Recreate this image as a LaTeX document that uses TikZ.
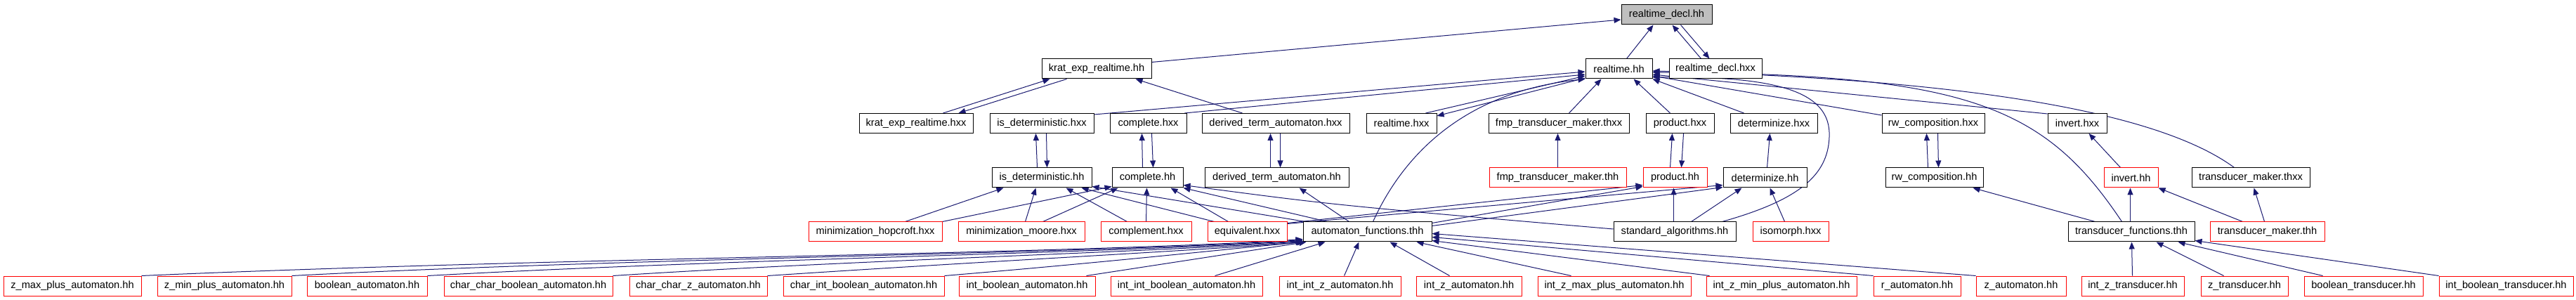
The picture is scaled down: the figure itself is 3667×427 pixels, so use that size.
\documentclass[tikz,border=0pt]{standalone}
\usepackage{fontspec}
\setmainfont{Liberation Sans}
\usetikzlibrary{arrows.meta}
\pgfdeclarelayer{bg}
\pgfsetlayers{bg,main}
\definecolor{edgeblue}{HTML}{191970}
\definecolor{declgray}{HTML}{BFBFBF}
\definecolor{boxred}{HTML}{FF0000}
\newcommand{\nodefont}{\fontsize{14.6pt}{17pt}\selectfont}
\begin{document}
\begin{tikzpicture}[x=1pt,y=-1pt,
  box/.style={draw=black, fill=white, line width=1pt, minimum height=28pt, inner sep=0pt, font=\nodefont},
  redbox/.style={box, draw=boxred},
  edge/.style={draw=edgeblue, line width=1pt, -{Triangle[length=10pt,width=8pt]}}]
\begin{pgfonlayer}{bg}
\fill[white] (0,0) rectangle (3667,427);
\end{pgfonlayer}
\useasboundingbox (0,0) rectangle (3667,427);
% row 0
\node[box, fill=declgray, minimum width=129pt] (rdh) at (2372.5,21) {realtime\_decl.hh};
% row 1
\node[box, minimum width=156pt] (keh) at (1561,98) {krat\_exp\_realtime.hh};
\node[box, minimum width=95pt] (rth) at (2304.5,98) {realtime.hh};
\node[box, minimum width=132pt] (rdx) at (2442,98) {realtime\_decl.hxx};
% row 2
\node[box, minimum width=162pt] (kex) at (1304,175.5) {krat\_exp\_realtime.hxx};
\node[box, minimum width=148pt] (idx) at (1483,175.5) {is\_deterministic.hxx};
\node[box, minimum width=109pt] (cpx) at (1634.5,175.5) {complete.hxx};
\node[box, minimum width=210pt] (dtx) at (1816,175.5) {derived\_term\_automaton.hxx};
\node[box, minimum width=100pt] (rtx) at (1995,175.5) {realtime.hxx};
\node[box, minimum width=200pt] (fmx) at (2219,175.5) {fmp\_transducer\_maker.thxx};
\node[box, minimum width=97pt] (prx) at (2391.5,175.5) {product.hxx};
\node[box, minimum width=124pt] (dex) at (2525,175.5) {determinize.hxx};
\node[box, minimum width=146pt] (rwx) at (2752,175.5) {rw\_composition.hxx};
\node[box, minimum width=84pt] (inx) at (2957,175.5) {invert.hxx};
% row 3
\node[box, minimum width=142pt] (idh) at (1483,253) {is\_deterministic.hh};
\node[box, minimum width=101pt] (cph) at (1633.5,253) {complete.hh};
\node[box, minimum width=205pt] (dth) at (1817.5,253) {derived\_term\_automaton.hh};
\node[redbox, minimum width=195pt] (fmh) at (2217.5,253) {fmp\_transducer\_maker.thh};
\node[redbox, minimum width=91pt] (prh) at (2384.5,253) {product.hh};
\node[box, minimum width=119pt] (deh) at (2512.5,253) {determinize.hh};
\node[box, minimum width=139pt] (rwh) at (2753.5,253) {rw\_composition.hh};
\node[redbox, minimum width=77pt] (inh) at (3033.5,253) {invert.hh};
\node[box, minimum width=168pt] (tmx) at (3204,253) {transducer\_maker.thxx};
% row 4
\node[redbox, minimum width=190pt] (mhx) at (1246,330) {minimization\_hopcroft.hxx};
\node[redbox, minimum width=180pt] (mmx) at (1454,330) {minimization\_moore.hxx};
\node[redbox, minimum width=129pt] (cmx) at (1631.5,330) {complement.hxx};
\node[redbox, minimum width=113pt] (eqx) at (1775.5,330) {equivalent.hxx};
\node[box, minimum width=183pt] (aft) at (1946.5,330) {automaton\_functions.thh};
\node[box, minimum width=174pt] (sah) at (2384,330) {standard\_algorithms.hh};
\node[redbox, minimum width=108pt] (isx) at (2549,330) {isomorph.hxx};
\node[box, minimum width=180pt] (tft) at (3034,330) {transducer\_functions.thh};
\node[redbox, minimum width=163pt] (tmh) at (3227.5,330) {transducer\_maker.thh};
% row 5
\node[redbox, minimum width=196pt] (b1) at (103,407) {z\_max\_plus\_automaton.hh};
\node[redbox, minimum width=191pt] (b2) at (319.5,407) {z\_min\_plus\_automaton.hh};
\node[redbox, minimum width=171pt] (b3) at (522.5,407) {boolean\_automaton.hh};
\node[redbox, minimum width=240pt] (b4) at (752,407) {char\_char\_boolean\_automaton.hh};
\node[redbox, minimum width=196pt] (b5) at (994,407) {char\_char\_z\_automaton.hh};
\node[redbox, minimum width=229pt] (b6) at (1229.5,407) {char\_int\_boolean\_automaton.hh};
\node[redbox, minimum width=194pt] (b7) at (1462,407) {int\_boolean\_automaton.hh};
\node[redbox, minimum width=216pt] (b8) at (1689,407) {int\_int\_boolean\_automaton.hh};
\node[redbox, minimum width=173pt] (b9) at (1907.5,407) {int\_int\_z\_automaton.hh};
\node[redbox, minimum width=150pt] (b10) at (2091,407) {int\_z\_automaton.hh};
\node[redbox, minimum width=218pt] (b11) at (2298,407) {int\_z\_max\_plus\_automaton.hh};
\node[redbox, minimum width=214pt] (b12) at (2536,407) {int\_z\_min\_plus\_automaton.hh};
\node[redbox, minimum width=124pt] (b13) at (2729,407) {r\_automaton.hh};
\node[redbox, minimum width=128pt] (b14) at (2877,407) {z\_automaton.hh};
\node[redbox, minimum width=146pt] (b15) at (3036,407) {int\_z\_transducer.hh};
\node[redbox, minimum width=124pt] (b16) at (3195,407) {z\_transducer.hh};
\node[redbox, minimum width=169pt] (b17) at (3364.5,407) {boolean\_transducer.hh};
\node[redbox, minimum width=191pt] (b18) at (3567.5,407) {int\_boolean\_transducer.hh};

\begin{pgfonlayer}{bg}
% top
\draw[edge] ([xshift=59pt]rth.north west) -- ([xshift=46pt]rdh.south west);
\draw[edge] ([xshift=46pt]rdx.north west) -- ([xshift=73pt]rdh.south west);
\draw[edge] ([xshift=85pt]rdh.south west) -- ([xshift=58pt]rdx.north west);
\draw[edge] ([yshift=-5pt]keh.north east) -- ([yshift=-7pt]rdh.west);
% krat
\draw[edge] ([xshift=120pt]kex.north west) -- ([xshift=12pt]keh.south west);
\draw[edge] ([xshift=36pt]keh.south west) -- ([xshift=142pt]kex.north west);
\draw[edge] ([xshift=58pt]dtx.north west) -- ([xshift=134pt]keh.south west);
% into realtime.hh
\draw[edge] ([yshift=-2pt]idx.north east) -- ([yshift=-4pt]rth.west);
\draw[edge] ([xshift=107pt]cpx.north west) -- ([yshift=-8pt]rth.west);
\draw[edge] ([xshift=85pt]rtx.north west) -- ([yshift=-10pt]rth.west);
\draw[edge] ([yshift=-13pt]rth.west) -- ([yshift=-4pt]rtx.north east);
\draw[edge] ([xshift=100pt]aft.north west) .. controls (2000,215) and (2090,130) .. (rth.south west);
\draw[edge] ([xshift=115pt]fmx.north west) -- ([xshift=23pt]rth.south west);
\draw[edge] ([xshift=35pt]prx.north west) -- ([xshift=69pt]rth.south west);
\draw[edge] ([xshift=20pt]dex.north west) -- (rth.south east);
\draw[edge] ([yshift=-3pt]rwx.north west) -- ([yshift=-10pt]rth.east);
\draw[edge] ([yshift=-1pt]inx.north west) -- ([yshift=-8pt]rth.east);
\draw[edge] ([xshift=77pt]tft.north west) .. controls (2910,150) and (2800,105) .. ([yshift=-5pt]rth.east);
\draw[edge] ([xshift=61pt]tmx.north west) .. controls (3060,150) and (2750,112) .. ([yshift=-3pt]rth.east);
\draw[edge] ([xshift=155pt]sah.north west) .. controls (2560,285) and (2602,250) .. (2604,195) .. controls (2607,130) and (2530,108) .. ([yshift=-12pt]rth.east);
% row 3 -> row 2
\draw[edge] ([xshift=65pt]idh.north west) -- ([xshift=66pt]idx.south west);
\draw[edge] ([xshift=81pt]idx.south west) -- ([xshift=79pt]idh.north west);
\draw[edge] ([xshift=44pt]cph.north west) -- ([xshift=46pt]cpx.south west);
\draw[edge] ([xshift=60pt]cpx.south west) -- ([xshift=59pt]cph.north west);
\draw[edge] ([xshift=94pt]dth.north west) -- ([xshift=98pt]dtx.south west);
\draw[edge] ([xshift=112pt]dtx.south west) -- ([xshift=108pt]dth.north west);
\draw[edge] ([xshift=98pt]fmh.north west) -- ([xshift=99pt]fmx.south west);
\draw[edge] ([xshift=39pt]prh.north west) -- ([xshift=38pt]prx.south west);
\draw[edge] ([xshift=54pt]prx.south west) -- ([xshift=55pt]prh.north west);
\draw[edge] ([xshift=63pt]deh.north west) -- ([xshift=57pt]dex.south west);
\draw[edge] ([xshift=61pt]rwh.north west) -- ([xshift=64pt]rwx.south west);
\draw[edge] ([xshift=80pt]rwx.south west) -- ([xshift=76pt]rwh.north west);
\draw[edge] ([xshift=24pt]inh.north west) -- ([xshift=59pt]inx.south west);
% right side row 4 -> row 3
\draw[edge] ([xshift=78pt]tmh.north west) -- ([xshift=89pt]tmx.south west);
\draw[edge] ([xshift=47pt]tmh.north west) -- (inh.south east);
\draw[edge] ([xshift=89pt]tft.north west) -- ([xshift=38pt]inh.south west);
\draw[edge] ([xshift=39pt]tft.north west) -- ([xshift=125pt]rwh.south west);
% row 4 -> row 3 (left)
\draw[edge] ([xshift=138pt]mhx.north west) -- ([xshift=17pt]idh.south west);
\draw[edge] (mhx.north east) -- ([yshift=2pt]cph.south west);
\draw[edge] ([xshift=96pt]mmx.north west) -- ([xshift=63pt]idh.south west);
\draw[edge] ([xshift=121pt]mmx.north west) -- ([xshift=9pt]cph.south west);
\draw[edge] ([xshift=38pt]cmx.north west) -- ([xshift=106pt]idh.south west);
\draw[edge] ([xshift=65pt]cmx.north west) -- ([xshift=50pt]cph.south west);
\draw[edge] ([xshift=10pt]eqx.north west) -- ([xshift=128pt]idh.south west);
\draw[edge] ([xshift=30pt]eqx.north west) -- ([xshift=84pt]cph.south west);
\draw[edge] ([xshift=4pt]aft.north west) -- ([yshift=2pt]idh.south east);
\draw[edge] ([xshift=35pt]aft.north west) -- (cph.south east);
\draw[edge] ([yshift=4pt]sah.west) .. controls (1900,292) .. ([yshift=4pt]cph.south east);
\draw[edge] ([xshift=66pt]aft.north west) -- ([xshift=135pt]dth.south west);
\draw[edge] ([yshift=-2pt]aft.north east) -- ([yshift=2pt]prh.south west);
\draw[edge] ([yshift=-6pt]aft.north east) -- ([yshift=1pt]deh.south west);
\draw[edge] ([yshift=-2pt]eqx.north east) -- ([yshift=4pt]prh.south west);
\draw[edge] ([yshift=-3pt]eqx.north east) -- ([yshift=4pt]deh.south west);
\draw[edge] ([xshift=86pt]sah.north west) -- ([xshift=44pt]prh.south west);
\draw[edge] ([xshift=111pt]sah.north west) -- ([xshift=27pt]deh.south west);
\draw[edge] ([xshift=46pt]isx.north west) -- ([xshift=67pt]deh.south west);
% row 5 -> row 4
\draw[edge] (b1.north east) .. controls (780,367) and (1520,362) .. ([yshift=4pt]aft.south west);
\draw[edge] (b2.north east) .. controls (900,367) and (1560,361) .. ([yshift=3pt]aft.south west);
\draw[edge] (b3.north east) .. controls (1050,368) and (1600,360) .. ([yshift=2pt]aft.south west);
\draw[edge] (b4.north east) .. controls (1220,370) and (1640,359) .. ([yshift=1pt]aft.south west);
\draw[edge] (b5.north east) .. controls (1400,372) and (1700,357) .. (aft.south west);
\draw[edge] (b6.north east) .. controls (1580,373) and (1760,353) .. ([xshift=2pt]aft.south west);
\draw[edge] ([xshift=182pt]b7.north west) -- ([xshift=5pt]aft.south west);
\draw[edge] ([xshift=149pt]b8.north west) -- ([xshift=32pt]aft.south west);
\draw[edge] ([xshift=93pt]b9.north west) -- ([xshift=80pt]aft.south west);
\draw[edge] ([xshift=48pt]b10.north west) -- ([xshift=124pt]aft.south west);
\draw[edge] ([xshift=48pt]b11.north west) -- ([xshift=162pt]aft.south west);
\draw[edge] ([xshift=5pt]b12.north west) -- ([yshift=2pt]aft.south east);
\draw[edge] (b13.north west) -- ([yshift=7pt]aft.south east);
\draw[edge] (b14.north west) -- ([yshift=12pt]aft.south east);
\draw[edge] ([xshift=73pt]b15.north west) -- ([xshift=91pt]tft.south west);
\draw[edge] ([xshift=33pt]b16.north west) -- ([xshift=126pt]tft.south west);
\draw[edge] ([xshift=27pt]b17.north west) -- ([xshift=157pt]tft.south west);
\draw[edge] (b18.north west) -- ([yshift=2pt]tft.south east);
\end{pgfonlayer}
\end{tikzpicture}
\end{document}
